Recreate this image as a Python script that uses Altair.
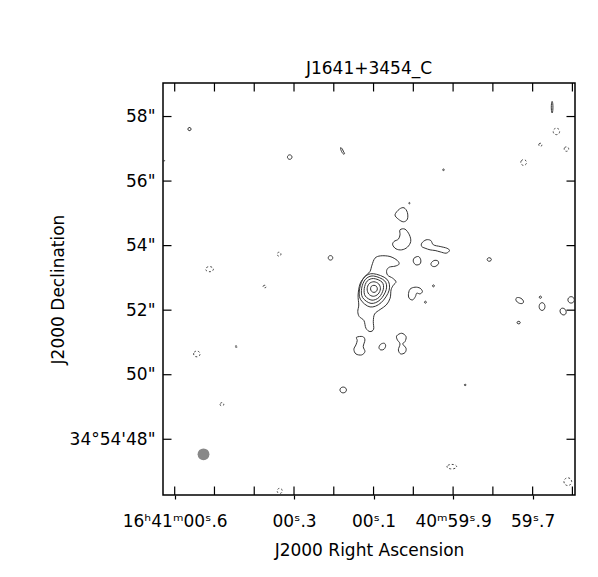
import math
import json
import altair as alt
import pandas as pd

# ---------------- data ----------------
# reference position of the peak (RA seconds after 16h41m00s, Dec arcsec after +34d54'00")
PEAK_RA_S = 0.099
PEAK_DEC_AS = 52.66
DEC_DEG = 34.915
AS_PER_S = 15 * math.cos(math.radians(DEC_DEG))

# plotted field (RA seconds / Dec arcsec)
RA_MIN, RA_MAX = -0.4065, 0.6294
DEC_MIN, DEC_MAX = 46.273, 59.039

# axis ticks and labels
ra_tick_values = [0.6, 0.5, 0.4, 0.3, 0.2, 0.1, 0.0, -0.1, -0.2, -0.3, -0.4]
ra_label_values = [0.6, 0.3, 0.1, -0.1, -0.3]
ra_labels = ["16ʰ41ᵐ00ˢ.6", "00ˢ.3", "00ˢ.1", "40ᵐ59ˢ.9", "59ˢ.7"]
dec_tick_values = [48, 50, 52, 54, 56, 58]
dec_labels = ['34°54\'48"', '50"', '52"', '54"', '56"', '58"']

# contour vertices: offsets (arcsec, east +, north +) from the peak
ring1 = [(0, 0.11), (0.08, 0.08), (0.105, 0), (0.075, -0.075), (0, -0.11), (-0.075, -0.075), (-0.105, 0), (-0.075, 0.08)]
ring2 = [(0.0, 0.22), (0.15, 0.16), (0.21, 0.0), (0.16, -0.16), (0.02, -0.23), (-0.13, -0.16), (-0.2, 0.0), (-0.15, 0.15)]
ring3 = [(0.01, 0.32), (0.21, 0.24), (0.30, 0.01), (0.27, -0.22), (0.06, -0.35), (-0.16, -0.26), (-0.29, -0.01), (-0.25, 0.21)]
ring4 = [(0.02, 0.40), (0.26, 0.30), (0.38, 0.02), (0.35, -0.27), (0.09, -0.45), (-0.19, -0.34), (-0.38, -0.02), (-0.33, 0.25)]
ring5 = [(0.02, 0.47), (0.30, 0.36), (0.44, 0.02), (0.42, -0.32), (0.12, -0.56), (-0.22, -0.43), (-0.47, -0.04), (-0.40, 0.30)]
main_low = [(0.062, 0.734), (-0.031, 0.951), (-0.207, 1.023), (-0.496, 1.003), (-0.724, 0.879), (-0.775, 0.765),
            (-0.651, 0.703), (-0.475, 0.672), (-0.393, 0.568), (-0.424, 0.424), (-0.579, 0.331), (-0.682, 0.217),
            (-0.60, 0.114), (-0.53, -0.03), (-0.50, -0.29), (-0.38, -0.50), (-0.19, -0.64), (-0.02, -0.78),
            (0.02, -1.01), (0.01, -1.25), (0.124, -1.323), (0.248, -1.22), (0.31, -0.982), (0.455, -0.858),
            (0.50, -0.70), (0.47, -0.50), (0.49, -0.19), (0.43, 0.155), (0.28, 0.382), (0.124, 0.537)]
blob_a = [(-0.651, 2.295), (-0.786, 2.470), (-0.930, 2.512), (-1.034, 2.367), (-1.034, 2.160), (-0.910, 2.078), (-0.755, 2.160)]
blob_b = [(-0.806, 1.829), (-0.961, 1.850), (-1.096, 1.674), (-1.137, 1.468), (-1.034, 1.292), (-0.858, 1.209),
          (-0.682, 1.240), (-0.579, 1.364), (-0.620, 1.468), (-0.755, 1.540), (-0.806, 1.674)]
blob_c = [(-1.478, 1.416), (-1.612, 1.519), (-1.757, 1.499), (-1.840, 1.364), (-2.047, 1.313), (-2.253, 1.261),
          (-2.336, 1.189), (-2.233, 1.106), (-2.047, 1.147), (-1.891, 1.189), (-1.736, 1.209), (-1.581, 1.261), (-1.478, 1.313)]
blob_d = [(-1.240, 0.951), (-1.375, 1.003), (-1.447, 0.899), (-1.426, 0.775), (-1.302, 0.744), (-1.220, 0.837)]
blob_e = [(-1.767, 0.796), (-1.860, 0.879), (-1.974, 0.868), (-1.995, 0.775), (-1.891, 0.693), (-1.788, 0.713)]
blob_g = [(-1.116, -0.010), (-1.271, 0.052), (-1.426, 0.021), (-1.499, -0.083), (-1.426, -0.155), (-1.323, -0.134),
          (-1.282, -0.238), (-1.199, -0.341), (-1.096, -0.300), (-1.065, -0.186)]
blob_s1 = [(0.537, -1.499), (0.351, -1.478), (0.279, -1.581), (0.331, -1.788), (0.279, -1.943), (0.382, -2.047),
           (0.558, -2.016), (0.620, -1.871), (0.558, -1.736), (0.517, -1.602)]
blob_s2 = [(-0.155, -1.819), (-0.207, -1.716), (-0.320, -1.685), (-0.362, -1.767), (-0.310, -1.871), (-0.207, -1.891)]
blob_s3 = [(-0.703, -1.457), (-0.858, -1.375), (-0.992, -1.478), (-0.961, -1.633), (-0.889, -1.705), (-0.992, -1.840),
           (-0.961, -1.974), (-0.827, -2.016), (-0.755, -1.891), (-0.806, -1.705), (-0.724, -1.581)]
dash_n = [(1.034, 4.372), (0.982, 4.341), (0.95, 4.27), (0.910, 4.196), (0.941, 4.176), (1.003, 4.258)]

solid_paths = [ring1, ring2, ring3, ring4, ring5, main_low, blob_a, blob_b, blob_c, blob_d, blob_e,
               blob_g, blob_s1, blob_s2, blob_s3, dash_n]

# small islands: centre offset (arcsec), semi-axes (arcsec), tilt (deg)
solid_islands = [
    (1.344, 0.961, 0.07, 0.07, 0), (0.951, -3.132, 0.10, 0.09, 0), (5.705, 4.951, 0.05, 0.05, 0),
    (2.605, 4.083, 0.07, 0.07, 0), (-2.150, 3.690, 0.02, 0.03, 0), (-1.096, 2.656, 0.02, 0.02, 0),
    (-1.840, 0.093, 0.03, 0.03, 0), (-1.592, -0.413, 0.03, 0.03, 0), (-2.822, -2.977, 0.03, 0.02, 0),
    (6.512, 3.969, 0.04, 0.015, 0), (-3.566, 0.91, 0.065, 0.055, 0), (-4.506, -0.362, 0.13, 0.08, 30),
    (-5.147, -0.258, 0.035, 0.035, 0), (-5.199, -0.548, 0.09, 0.12, 0), (-5.850, -0.703, 0.09, 0.11, -30),
    (-6.098, -0.341, 0.10, 0.10, 0), (-4.475, -1.045, 0.05, 0.04, 0), (-5.51, 5.63, 0.025, 0.18, 0),
]
negative_islands = [
    (5.085, 0.61, 0.12, 0.08, 0), (5.478, -2.016, 0.10, 0.09, 0), (4.703, -3.576, 0.06, 0.05, 0),
    (2.935, 1.075, 0.06, 0.06, 0), (3.38, 0.072, 0.05, 0.04, 0), (4.258, -1.788, 0.05, 0.02, 0),
    (2.915, -6.26, 0.08, 0.08, 0), (-2.408, -5.509, 0.15, 0.07, 0), (-5.643, 4.878, 0.10, 0.10, 0),
    (-5.147, 4.465, 0.05, 0.05, 0), (-5.953, 4.332, 0.07, 0.07, 0), (-4.63, 3.916, 0.09, 0.09, 0),
    (-5.995, -5.974, 0.12, 0.12, 0),
]
beam = [(5.271, -5.126)]


def island_vertices(cx, cy, rx, ry, ang, n=10):
    t = math.radians(ang)
    pts = []
    for k in range(n):
        a = 2 * math.pi * k / n
        ex, ey = rx * math.cos(a), ry * math.sin(a)
        pts.append((cx + ex * math.cos(t) - ey * math.sin(t), cy + ex * math.sin(t) + ey * math.cos(t)))
    return pts


def to_sky(dx, dy):
    return PEAK_RA_S + dx / AS_PER_S, PEAK_DEC_AS + dy


rows = []
cid = 0
for path in solid_paths + [island_vertices(*p) for p in solid_islands]:
    for i, (dx, dy) in enumerate(path):
        ra, dec = to_sky(dx, dy)
        rows.append({"cid": cid, "i": i, "ra": ra, "dec": dec, "kind": "pos"})
    cid += 1
for p in negative_islands:
    for i, (dx, dy) in enumerate(island_vertices(*p)):
        ra, dec = to_sky(dx, dy)
        rows.append({"cid": cid, "i": i, "ra": ra, "dec": dec, "kind": "neg"})
    cid += 1
df = pd.DataFrame(rows)
beam_df = pd.DataFrame([{"ra": to_sky(*b)[0], "dec": to_sky(*b)[1]} for b in beam])
ra_ticks_df = pd.DataFrame({"ra": ra_tick_values})
dec_ticks_df = pd.DataFrame({"dec": dec_tick_values})

# ---------------- chart ----------------
W = H = 412
FONT = "DejaVu Sans"
TL = 8.5


def label_expr(values, labels, mult):
    expr = "''"
    for v, l in zip(values, labels):
        expr = f"round(datum.value*{mult})=={round(v * mult)} ? {json.dumps(l, ensure_ascii=False)} : ({expr})"
    return expr


xscale = alt.Scale(domain=[RA_MIN, RA_MAX], reverse=True, nice=False, zero=False)
yscale = alt.Scale(domain=[DEC_MIN, DEC_MAX], nice=False, zero=False)

x_axis = alt.Axis(values=ra_label_values, labelExpr=label_expr(ra_label_values, ra_labels, 10),
                  title="J2000 Right Ascension", tickSize=4, tickColor="black", tickWidth=1.2,
                  labelPadding=14, titlePadding=13, grid=False, domain=False, labelFlush=False,
                  labelOverlap=False)
y_axis = alt.Axis(values=dec_tick_values, labelExpr=label_expr(dec_tick_values, dec_labels, 1),
                  title="J2000 Declination", ticks=False, labelPadding=8, titlePadding=2,
                  grid=False, domain=False, labelOverlap=False)
X = alt.X("ra:Q", scale=xscale, axis=x_axis)
Y = alt.Y("dec:Q", scale=yscale, axis=y_axis)

pos = alt.Chart(df).transform_filter("datum.kind == 'pos'").mark_line(
    interpolate="cardinal-closed", color="#333333", strokeWidth=1, clip=True
).encode(x=X, y=Y, detail="cid:N", order="i:Q")
neg = alt.Chart(df).transform_filter("datum.kind == 'neg'").mark_line(
    interpolate="cardinal-closed", color="#444444", strokeWidth=1, strokeDash=[2, 2], clip=True
).encode(x=X, y=Y, detail="cid:N", order="i:Q")
beam_layer = alt.Chart(beam_df).mark_point(filled=True, shape="circle", size=140, color="#888888", opacity=1).encode(
    x=X, y=Y)
rule_style = dict(color="black", strokeWidth=1.2)
top_ticks = alt.Chart(ra_ticks_df).mark_rule(**rule_style).encode(x=X, y=alt.value(0), y2=alt.value(TL))
bot_ticks = alt.Chart(ra_ticks_df).mark_rule(**rule_style).encode(x=X, y=alt.value(H - TL), y2=alt.value(H))
left_ticks = alt.Chart(dec_ticks_df).mark_rule(**rule_style).encode(y=Y, x=alt.value(0), x2=alt.value(TL))
right_ticks = alt.Chart(dec_ticks_df).mark_rule(**rule_style).encode(y=Y, x=alt.value(W - TL), x2=alt.value(W))

chart = alt.layer(pos, neg, beam_layer, top_ticks, bot_ticks, left_ticks, right_ticks).properties(
    width=W, height=H,
    title=alt.TitleParams("J1641+3454_C", font=FONT, fontSize=17, fontWeight="normal", color="black",
                          anchor="middle"),
    autosize=alt.AutoSizeParams(type="none"),
    padding={"left": 155, "top": 75, "right": 15, "bottom": 70},
).configure_view(
    stroke="black", strokeWidth=1.5
).configure_axis(
    labelFont=FONT, labelFontSize=17, labelColor="black",
    titleFont=FONT, titleFontSize=17, titleFontWeight="normal", titleColor="black",
)

chart.save("out.html", embed_options={"renderer": "svg", "actions": False})
